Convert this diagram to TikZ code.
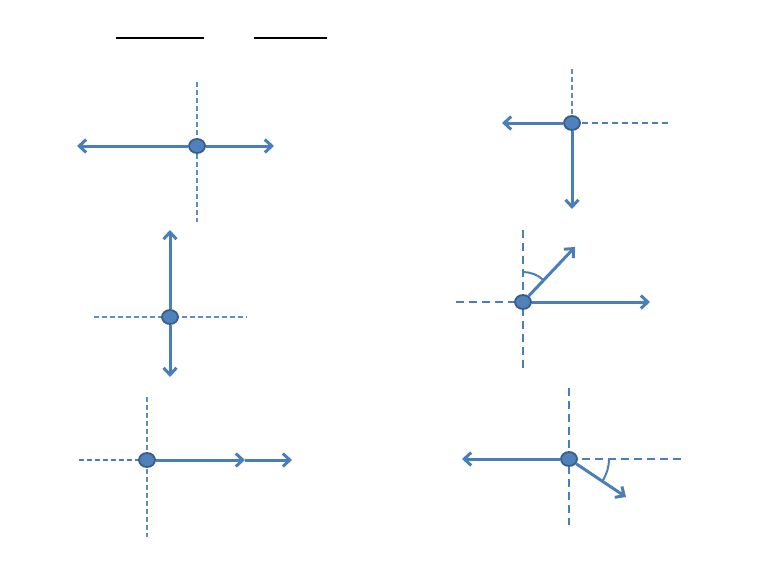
\documentclass[tikz,border=0pt]{standalone}
\usetikzlibrary{arrows.meta,shapes.geometric}
\definecolor{vblue}{HTML}{4A7EBB}
\definecolor{dotfill}{HTML}{4F81BD}
\definecolor{dotedge}{HTML}{385D8A}
\definecolor{lightdash}{HTML}{5E8CC8}
\tikzset{
  dotnode/.style={ellipse, draw=dotedge, fill=dotfill, line width=1.8pt, minimum width=16pt, minimum height=14pt, inner sep=0pt},
  vec/.style={draw=vblue, line width=3pt, -{Straight Barb[length=7pt,width=13pt,line width=3pt]}},
  thindash/.style={draw=lightdash, line width=1.1pt, dash pattern=on 5pt off 3pt},
  thickdash/.style={draw=vblue, line width=2.6pt, dash pattern=on 8pt off 5pt},
  anglearc/.style={draw=vblue, line width=2pt},
  barline/.style={draw=black, line width=2.2pt}
}
\begin{document}
\begin{tikzpicture}[x=1pt,y=-1pt]
\useasboundingbox (0,0) rectangle (768,576);
% top lines
\coordinate (b1a) at (116,38); \coordinate (b1b) at (204,38);
\coordinate (b2a) at (254,38); \coordinate (b2b) at (327,38);
\draw[barline] (b1a) -- (b1b);
\draw[barline] (b2a) -- (b2b);

% panel 1
\coordinate (p1t) at (197,82); \coordinate (p1b) at (197,222);
\coordinate (p1l) at (77,146); \coordinate (p1r) at (274,146);
\draw[thindash] (p1t) -- (p1b);
\node[dotnode] (d1) at (197,146) {};
\draw[vec] (d1) -- (p1l);
\draw[vec] (d1) -- (p1r);

% panel 2
\coordinate (p2t) at (572,69); \coordinate (p2r) at (669,123);
\coordinate (p2l) at (502,123); \coordinate (p2b) at (572,209);
\draw[thindash, line width=1.4pt] (p2t) -- (572,123);
\draw[thickdash, line width=2pt, dash pattern=on 6pt off 4pt] (572,123) -- (p2r);
\node[dotnode] (d2) at (572,123) {};
\draw[vec] (d2) -- (p2l);
\draw[vec] (d2) -- (p2b);

% panel 3
\coordinate (p3l) at (94,317); \coordinate (p3r) at (247,317);
\coordinate (p3t) at (170,230); \coordinate (p3b) at (170,377);
\draw[thindash] (p3l) -- (p3r);
\node[dotnode] (d3) at (170,317) {};
\draw[vec] (d3) -- (p3t);
\draw[vec] (d3) -- (p3b);

% panel 4
\coordinate (p4t) at (523,230); \coordinate (p4b) at (523,368);
\coordinate (p4l) at (456,302); \coordinate (p4r) at (650,302);
\coordinate (p4d) at (575,247);
\draw[thickdash] (p4t) -- (p4b);
\draw[thickdash] (p4l) -- (523,302);
\draw[anglearc] (523,272) arc[start angle=-90, end angle=-46.6, radius=30];
\node[dotnode] (d4) at (523,302) {};
\draw[vec] (d4) -- (p4r);
\draw[vec] (d4) -- (p4d);

% panel 5
\coordinate (p5t) at (147,397); \coordinate (p5b) at (147,537);
\coordinate (p5l) at (79,460); \coordinate (p5m) at (245,460);
\coordinate (p5r) at (292,460);
\draw[thindash] (p5t) -- (p5b);
\draw[thickdash, line width=2pt, dash pattern=on 5pt off 3pt] (p5l) -- (147,460);
\node[dotnode] (d5) at (147,460) {};
\draw[vec] (d5) -- (p5m);
\draw[vec] (p5m) -- (p5r);

% panel 6
\coordinate (p6t) at (569,388); \coordinate (p6b) at (569,525);
\coordinate (p6r) at (684,459); \coordinate (p6l) at (462,459);
\coordinate (p6d) at (626,497);
\draw[thickdash, line width=2.2pt] (p6t) -- (p6b);
\draw[thickdash, line width=2.2pt] (569,459) -- (p6r);
\draw[anglearc] (609,459) arc[start angle=0, end angle=33.7, radius=40];
\node[dotnode] (d6) at (569,459) {};
\draw[vec] (d6) -- (p6l);
\draw[vec] (d6) -- (p6d);
\end{tikzpicture}
\end{document}
